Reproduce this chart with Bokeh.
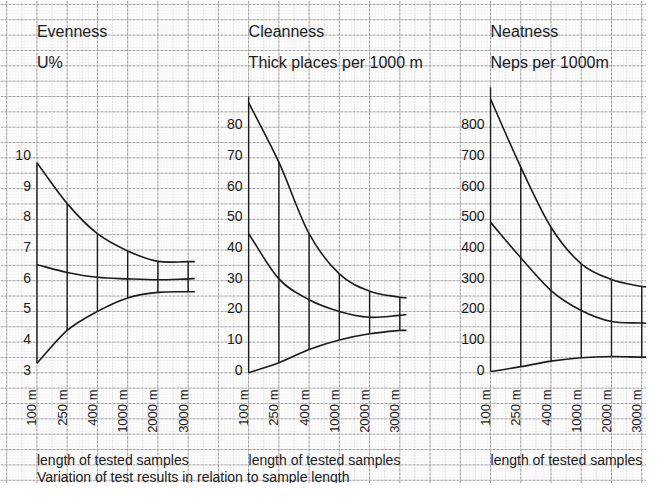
import math
from bokeh.plotting import figure
from bokeh.models import Range1d
from bokeh.core.properties import value
from bokeh.embed import file_html
from bokeh.resources import INLINE

# ---------------- data ----------------
categories = ["100 m", "250 m", "400 m", "1000 m", "2000 m", "3000 m"]

even_upper = [9.84, 8.51, 7.53, 6.97, 6.63, 6.62]
even_mid = [6.52, 6.27, 6.11, 6.06, 6.03, 6.06]
even_lower = [3.31, 4.38, 5.00, 5.44, 5.62, 5.64]
even_tail = [6.62, 6.07, 5.64]          # curve ends just right of 3000 m
even_ticks = [3, 4, 5, 6, 7, 8, 9, 10]

clean_upper = [88.0, 68.6, 45.3, 32.2, 26.6, 24.6]
clean_mid = [45.3, 30.6, 23.8, 20.0, 18.1, 18.7]
clean_lower = [0.0, 3.3, 7.6, 10.7, 12.7, 13.8]
clean_tail = [24.4, 19.0, 13.8]
clean_ticks = [0, 10, 20, 30, 40, 50, 60, 70, 80]
clean_axis_top = 90

neat_upper = [892, 670, 474, 355, 304, 281]
neat_mid = [490, 375, 268, 203, 167, 162]
neat_lower = [4, 20, 38, 49, 53, 51]
neat_tail = [280, 161, 51]
neat_ticks = [0, 100, 200, 300, 400, 500, 600, 700, 800]
neat_axis_top = 930

# ---------------- layout ----------------
W, H = 646, 483
SX = 0.985
CW = 30.7            # graph paper major cell, vertical direction (px)
CWX = CW * SX        # horizontal cell (slightly compressed to fit)
X0 = 37.0 * SX       # x of first grid column
Y0 = 372.3           # y (from top) of the zero line
TAIL = 0.22          # tail extension (in category steps)

def Y(py):
    return H - py

p = figure(width=W, height=H, x_range=Range1d(0, W), y_range=Range1d(0, H),
           output_backend="svg", toolbar_location=None, min_border=0,
           x_axis_location=None, y_axis_location=None,
           background_fill_color="white", border_fill_color="white")
p.grid.visible = False
p.outline_line_color = None

# graph paper
minor_x = [X0 + i * CWX / 10 for i in range(-20, 210)]
minor_y = [Y(Y0 - i * CW / 10) for i in range(-40, 130)]
p.segment(x0=minor_x, y0=0, x1=minor_x, y1=H, line_color="#ededed", line_width=1, line_dash="1 1")
p.segment(x0=0, y0=minor_y, x1=W, y1=minor_y, line_color="#ededed", line_width=1, line_dash="1 1")
half_x = [X0 + (k + 0.5) * CWX for k in range(-2, 21)]
p.segment(x0=half_x, y0=0, x1=half_x, y1=H, line_color="#cccccc", line_width=1, line_dash="1 2")
major_x = [X0 + k * CWX for k in range(-2, 22)]
p.segment(x0=major_x, y0=0, x1=major_x, y1=H, line_color="#9a9a9a", line_width=1, line_dash="3 1")
major_y = [Y(Y0 - k * CW / 2) for k in range(-8, 26)]
p.segment(x0=0, y0=major_y, x1=W, y1=major_y, line_color="#a2a2a2", line_width=1, line_dash="3 1")

font = value("Liberation Sans")
ink = "#1c1c1c"


def hermite_bezier(xs, ys):
    """Smooth cubic Hermite curve through the points, as bezier pieces."""
    m = len(xs)
    slopes = []
    for i in range(m):
        if i == 0:
            s = (ys[1] - ys[0]) / (xs[1] - xs[0])
        elif i == m - 1:
            s = (ys[-1] - ys[-2]) / (xs[-1] - xs[-2])
        else:
            s = (ys[i + 1] - ys[i - 1]) / (xs[i + 1] - xs[i - 1])
        slopes.append(s)
    out = dict(x0=[], y0=[], x1=[], y1=[], cx0=[], cy0=[], cx1=[], cy1=[])
    for i in range(m - 1):
        h = xs[i + 1] - xs[i]
        out["x0"].append(xs[i]); out["y0"].append(ys[i])
        out["x1"].append(xs[i + 1]); out["y1"].append(ys[i + 1])
        out["cx0"].append(xs[i] + h / 3); out["cy0"].append(ys[i] + slopes[i] * h / 3)
        out["cx1"].append(xs[i + 1] - h / 3); out["cy1"].append(ys[i + 1] - slopes[i + 1] * h / 3)
    return out


panels = [
    ("even", 0, 3, 1, even_upper, even_mid, even_lower, even_tail, even_ticks, None,
     "Evenness", "U%"),
    ("clean", 7, 0, 10, clean_upper, clean_mid, clean_lower, clean_tail, clean_ticks, clean_axis_top,
     "Cleanness", "Thick places  per 1000 m"),
    ("neat", 15, 0, 100, neat_upper, neat_mid, neat_lower, neat_tail, neat_ticks, neat_axis_top,
     "Neatness", "Neps per 1000m"),
]

n = len(categories)
idx = list(range(n))
xs_curve = idx + [n - 1 + TAIL]

for name, col, base, per, up, mid, low, tail, ticks, axis_top, title, sub in panels:
    xs0 = (0 - X0) / CWX - col
    xs1 = (W - X0) / CWX - col
    ys0 = base + (Y0 - H) / CW * per
    ys1 = base + (Y0 - 0) / CW * per
    p.extra_x_ranges[name] = Range1d(xs0, xs1)
    p.extra_y_ranges[name] = Range1d(ys0, ys1)
    kw = dict(x_range_name=name, y_range_name=name)

    # vertical connectors
    tops = list(up)
    if axis_top is not None:
        tops[0] = axis_top
    p.segment(x0=idx, y0=low, x1=idx, y1=tops, line_color=ink, line_width=1.4, **kw)

    # smooth curves through the read values
    for series, t in zip((up, mid, low), tail):
        ys = list(series) + [t]
        b = hermite_bezier(xs_curve, ys)
        p.bezier(source=b, x0="x0", y0="y0", x1="x1", y1="y1",
                 cx0="cx0", cy0="cy0", cx1="cx1", cy1="cy1",
                 line_color=ink, line_width=1.6, **kw)

    # y tick labels
    p.text(x=[0] * len(ticks), y=ticks, text=[str(t) for t in ticks],
           text_font=font, text_font_size="14px", text_color=ink,
           text_align="right", text_baseline="middle", x_offset=-6, y_offset=-3, **kw)

    # x tick labels (rotated, sitting just left of each category line)
    p.text(x=idx, y=[Y(389)] * n, text=categories, angle=math.pi / 2,
           text_font=font, text_font_size="13px", text_color=ink,
           text_align="right", text_baseline="middle", x_offset=-5,
           x_range_name=name)

    # titles
    p.text(x=[0, 0], y=[Y(31), Y(62)], text=[title, sub],
           text_font=font, text_font_size="16px", text_color=ink,
           text_align="left", text_baseline="middle", x_range_name=name)

    # x axis caption
    p.text(x=[0], y=[Y(459)], text=["length of tested samples"],
           text_font=font, text_font_size="14px", text_color=ink,
           text_align="left", text_baseline="middle", x_range_name=name)

p.text(x=[0], y=[Y(476)], text=["Variation of test  results  in  relation to sample length"],
       text_font=font, text_font_size="14px", text_color=ink,
       text_align="left", text_baseline="middle", x_range_name="even")

open("out.html", "w").write(file_html(p, INLINE))
